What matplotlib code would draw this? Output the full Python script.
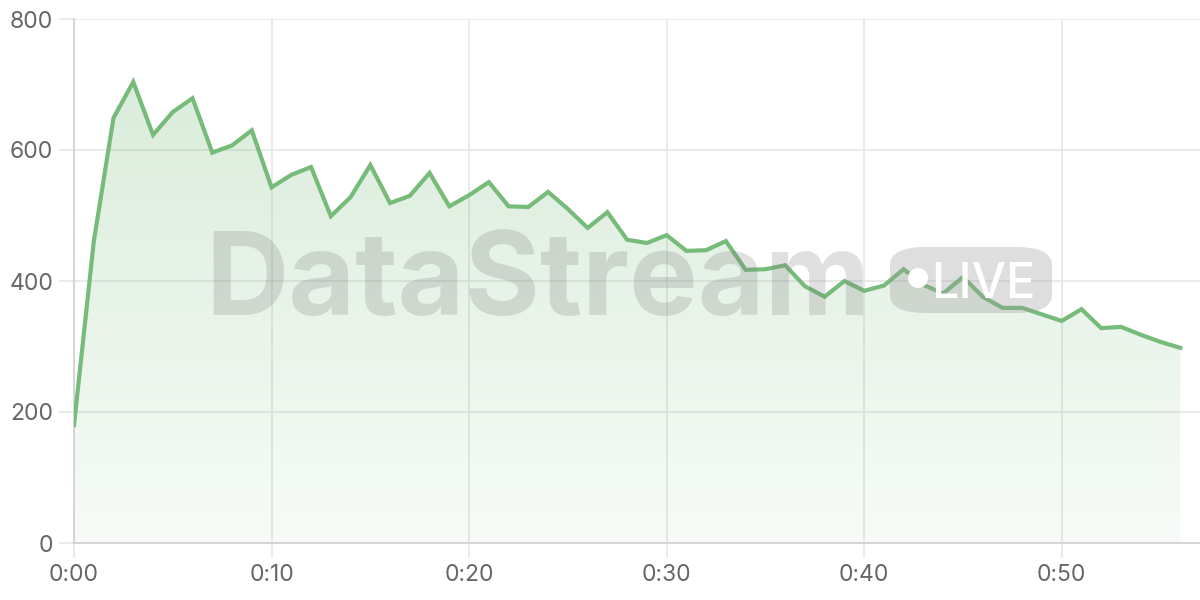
import numpy as np
import matplotlib
matplotlib.use("Agg")
import matplotlib.pyplot as plt  # noqa: E402
from matplotlib.patches import FancyBboxPatch, Ellipse, Polygon  # noqa: E402

# minutes since start (0:00 .. 0:56), one reading per minute
minutes = list(range(57))
values = [180, 460, 649, 704, 623, 658, 679, 596, 607, 630,
          543, 562, 574, 499, 528, 577, 519, 530, 565, 514,
          531, 551, 514, 513, 536, 510, 481, 505, 463, 458,
          470, 446, 447, 461, 417, 418, 424, 392, 376, 400,
          385, 393, 418, 394, 381, 406, 376, 359, 359, 349,
          339, 357, 328, 330, 318, 307, 298]
xticks = [0, 10, 20, 30, 40, 50]
xtick_labels = ["0:00", "0:10", "0:20", "0:30", "0:40", "0:50"]
yticks = [0, 200, 400, 600, 800]

LINE = "#77bb7a"
GRID = "#e6e6e6"
TXT = "#666666"

plt.rcParams["font.family"] = ["Inter", "DejaVu Sans"]

fig = plt.figure(figsize=(12, 6), dpi=100)
ax = fig.add_axes([74 / 1200, 57 / 600, 1126 / 1200, 524 / 600])
ax.set_xlim(0, 57)
ax.set_ylim(0, 800)

x = np.array(minutes, dtype=float)
y = np.array(values, dtype=float)

# vertical gradient fill under the line, clipped to the area polygon
grad = np.linspace(0, 1, 256).reshape(-1, 1)
cmap = matplotlib.colors.LinearSegmentedColormap.from_list(
    "g", [(0.47, 0.73, 0.48, 0.06), (0.47, 0.73, 0.48, 0.30)])
img = ax.imshow(grad, extent=[x[0], x[-1], 0, 800], origin="lower",
                aspect="auto", cmap=cmap, zorder=1)
poly = Polygon(np.vstack([[x[0], 0], np.column_stack([x, y]), [x[-1], 0]]),
               closed=True, facecolor="none", edgecolor="none")
ax.add_patch(poly)
img.set_clip_path(poly)

ax.plot(x, y, color=LINE, lw=3, zorder=4, solid_joinstyle="miter")

# watermark
fig.text(0.448, 285 / 600, "DataStream", fontsize=83, fontweight="bold",
         color="#808080", alpha=0.24, ha="center", va="baseline", zorder=3)
pill = FancyBboxPatch((890 / 1200, 287 / 600), 162 / 1200, 66 / 600,
                      boxstyle="round,pad=0,rounding_size=0.03",
                      transform=fig.transFigure, facecolor="#9a9a9a",
                      alpha=0.32, edgecolor="none", zorder=3)
fig.add_artist(pill)
fig.add_artist(Ellipse((918 / 1200, 322 / 600), 20 / 1200, 20 / 600,
                       transform=fig.transFigure, facecolor="white",
                       edgecolor="none", zorder=3))
fig.text(983 / 1200, 302 / 600, "LIVE", fontsize=35, fontweight="medium",
         color="white", ha="center", va="baseline", zorder=3)

ax.set_xticks(xticks)
ax.set_xticklabels(xtick_labels)
ax.set_yticks(yticks)
ax.grid(True, color=GRID, lw=1.2, zorder=0)
ax.set_axisbelow(True)
for s in ["top", "right"]:
    ax.spines[s].set_visible(False)
for s in ["left", "bottom"]:
    ax.spines[s].set_color("#d0d0d0")
    ax.spines[s].set_linewidth(1.2)
ax.tick_params(length=11, width=1.2, color=GRID, labelcolor=TXT,
               labelsize=16.5, pad=4)

fig.savefig("out.png", dpi=100)
